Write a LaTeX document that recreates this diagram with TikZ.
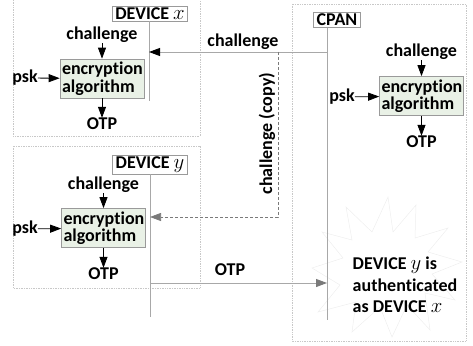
\documentclass[tikz,border=0pt]{standalone}
\usepackage{fontspec}
\setmainfont{Carlito}[Ligatures=NoCommon]
\usetikzlibrary{arrows.meta}
\definecolor{lifegray}{HTML}{A8A8A8}
\definecolor{framegray}{HTML}{C8C8C8}
\definecolor{boxfill}{HTML}{E9F1E6}
\definecolor{boxline}{HTML}{9A9A9A}
\definecolor{headgray}{HTML}{7A7A7A}
\definecolor{burstgray}{HTML}{EEEEEE}
\newcommand{\vname}[1]{{\fontsize{20}{17.5}\selectfont$#1$}}
\begin{document}
\begin{tikzpicture}[x=1pt,y=-1pt,
  every node/.style={font=\fontsize{18}{17.5}\selectfont\bfseries, inner sep=0pt},
  frame/.style={draw=framegray, densely dotted, line width=0.7pt},
  lifeline/.style={draw=lifegray, line width=0.9pt},
  actor/.style={draw=boxline, fill=white, line width=0.7pt, inner xsep=3pt, inner ysep=1.5pt},
  algo/.style={draw=boxline, fill=boxfill, line width=0.7pt, minimum width=84pt, minimum height=39pt,
    align=left, text width=80pt, inner xsep=2pt},
  blk/.style={draw=black, line width=0.8pt, -{Triangle[length=11pt,width=8pt]}},
  msg/.style={draw=lifegray, line width=0.9pt, -{Triangle[length=11pt,width=8pt,color=black,fill=black]}},
  msggray/.style={draw=lifegray, line width=0.9pt, -{Triangle[length=11pt,width=8pt,color=headgray,fill=headgray]}},
  copyline/.style={draw=headgray, densely dashed, line width=0.7pt, -{Triangle[length=11pt,width=8pt,color=headgray,fill=headgray]}}
]
\useasboundingbox (0,0) rectangle (473,345);

% dotted frames of the three parties
\draw[frame] (13,-5) rectangle (200,136);
\draw[frame] (13,146) rectangle (200,288);
\draw[frame] (292,4) rectangle (466,341);

% starburst behind the verdict
\draw[draw=burstgray, line width=0.5pt]
  (388,197) -- (393,232) -- (416,205) -- (415,238) -- (448,228) -- (428,252)
  -- (462,262) -- (432,274) -- (455,300) -- (425,293) -- (430,330) -- (407,305)
  -- (392,337) -- (380,307) -- (352,332) -- (356,302) -- (318,312) -- (340,285)
  -- (312,268) -- (343,258) -- (322,232) -- (352,240) -- (346,207) -- (372,232)
  -- cycle;

% party labels
\node[actor] (devx) at (150,13.5) {DEVICE \vname{x}};
\node[actor] (devy) at (150,164.5) {DEVICE \vname{y}};
\node[actor] (cpan) at (337,20) {CPAN};

% lifelines
\coordinate (xend) at (149,101);
\coordinate (yend) at (150,317);
\coordinate (cend) at (327,320);
\draw[lifeline] (devx.south -| xend) -- (xend);
\draw[lifeline] (devy.south -| yend) -- (yend);
\draw[lifeline] (cpan.south -| cend) -- (cend);

% encryption blocks
\node[algo] (encx) at (102,78.5) {encryption\\algorithm};
\node[algo] (ency) at (103.5,228) {encryption\\algorithm};
\node[algo] (encc) at (421.5,96) {encryption\\algorithm};

% inputs and outputs of each block
\node (chx) at (102,35) {challenge};
\node (pskx) at (25,78) {psk};
\node (otpx) at (102,124) {OTP};
\draw[blk] (chx) -- (encx);
\draw[blk] (pskx) -- (encx);
\draw[blk] (encx) -- (otpx);

\node (chy) at (103.5,185) {challenge};
\node (psky) at (25,229) {psk};
\node (otpy) at (103.5,274) {OTP};
\draw[blk] (chy) -- (ency);
\draw[blk] (psky) -- (ency);
\draw[blk] (ency) -- (otpy);

\node (chc) at (421.5,52) {challenge};
\node (pskc) at (342,97) {psk};
\node (otpc) at (421.5,142) {OTP};
\draw[blk] (chc) -- (encc);
\draw[blk] (pskc) -- (encc);
\draw[blk] (encc) -- (otpc);

% messages
\coordinate (chsrc) at (327,52);
\coordinate (chdst) at (149,52);
\draw[msg] (chsrc) -- (chdst);
\node (chlab) at (243,42) {challenge};

\coordinate (cpybr) at (278,52);
\coordinate (cpycn) at (278,217);
\coordinate (cpydst) at (150,217);
\draw[copyline] (cpybr) -- (cpycn) -- (cpydst);
\node[rotate=90] (cpylab) at (267,133.5) {challenge (copy)};

\coordinate (otpsrc) at (150,283);
\coordinate (otpdst) at (327,283);
\draw[msggray] (otpsrc) -- (otpdst);
\node (otplab) at (230,270) {OTP};

% verdict
\node[align=left, font=\fontsize{18}{21.7}\selectfont\bfseries] (verdict) at (405,285)
  {DEVICE \vname{y} is\\authenticated\\as DEVICE \vname{x}};
\end{tikzpicture}
\end{document}
